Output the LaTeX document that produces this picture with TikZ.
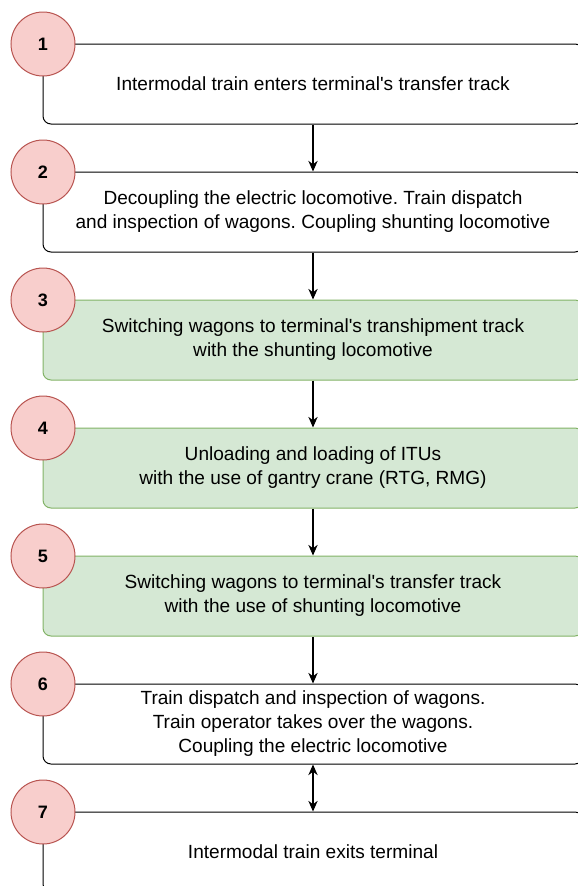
\documentclass[tikz,border=0pt]{standalone}
\usepackage{fontspec}
\setmainfont{Liberation Sans}
\usetikzlibrary{arrows.meta}
\frenchspacing

\definecolor{redfill}{RGB}{248,206,204}
\definecolor{reddraw}{RGB}{184,84,80}
\definecolor{greenfill}{RGB}{213,232,212}
\definecolor{greendraw}{RGB}{130,179,102}

\tikzset{
  stepbox/.style={draw=black, line width=0.75pt, rounded corners=6pt, fill=white,
    minimum width=405pt, minimum height=60pt, align=center, inner sep=0pt,
    font=\fontsize{14.3}{18}\selectfont},
  greenbox/.style={stepbox, draw=greendraw, fill=greenfill},
  numcircle/.style={circle, draw=reddraw, fill=redfill, line width=0.75pt,
    minimum size=48pt, inner sep=0pt, font=\fontsize{13.5}{15}\selectfont\bfseries},
  flow/.style={-{Stealth[length=8pt,width=7pt]}, line width=0.9pt},
}

\begin{document}
\begin{tikzpicture}[x=0.75pt,y=0.75pt,yscale=-1,xscale=1]
\useasboundingbox (0,0) rectangle (578,886);
% steps
\draw (313,84) node [stepbox] (b1) {Intermodal train enters terminal\textquotesingle s transfer track};
\draw (313,212) node [stepbox] (b2) {Decoupling the electric locomotive. Train dispatch\\and inspection of wagons. Coupling shunting locomotive};
\draw (313,340) node [greenbox] (b3) {Switching wagons to terminal\textquotesingle s transhipment track\\with the shunting locomotive};
\draw (313,468) node [greenbox] (b4) {Unloading and loading of ITUs\\with the use of gantry crane (RTG, RMG)};
\draw (313,596) node [greenbox] (b5) {Switching wagons to terminal\textquotesingle s transfer track\\with the use of shunting locomotive};
\draw (313,724) node [stepbox] (b6) {Train dispatch and inspection of wagons.\\Train operator takes over the wagons.\\Coupling the electric locomotive};
\draw (313,852) node [stepbox] (b7) {Intermodal train exits terminal};
% numbers
\draw (43,44) node [numcircle] (c1) {1};
\draw (43,172) node [numcircle] (c2) {2};
\draw (43,300) node [numcircle] (c3) {3};
\draw (43,428) node [numcircle] (c4) {4};
\draw (43,556) node [numcircle] (c5) {5};
\draw (43,684) node [numcircle] (c6) {6};
\draw (43,812) node [numcircle] (c7) {7};
% arrows
\draw [flow] (b1.south) -- (b2.north);
\draw [flow] (b2.south) -- (b3.north);
\draw [flow] (b3.south) -- (b4.north);
\draw [flow] (b4.south) -- (b5.north);
\draw [flow] (b5.south) -- (b6.north);
\draw [{Stealth[length=8pt,width=7pt]}-{Stealth[length=8pt,width=7pt]}, line width=0.9pt] (b6.south) -- (b7.north);
\end{tikzpicture}
\end{document}
